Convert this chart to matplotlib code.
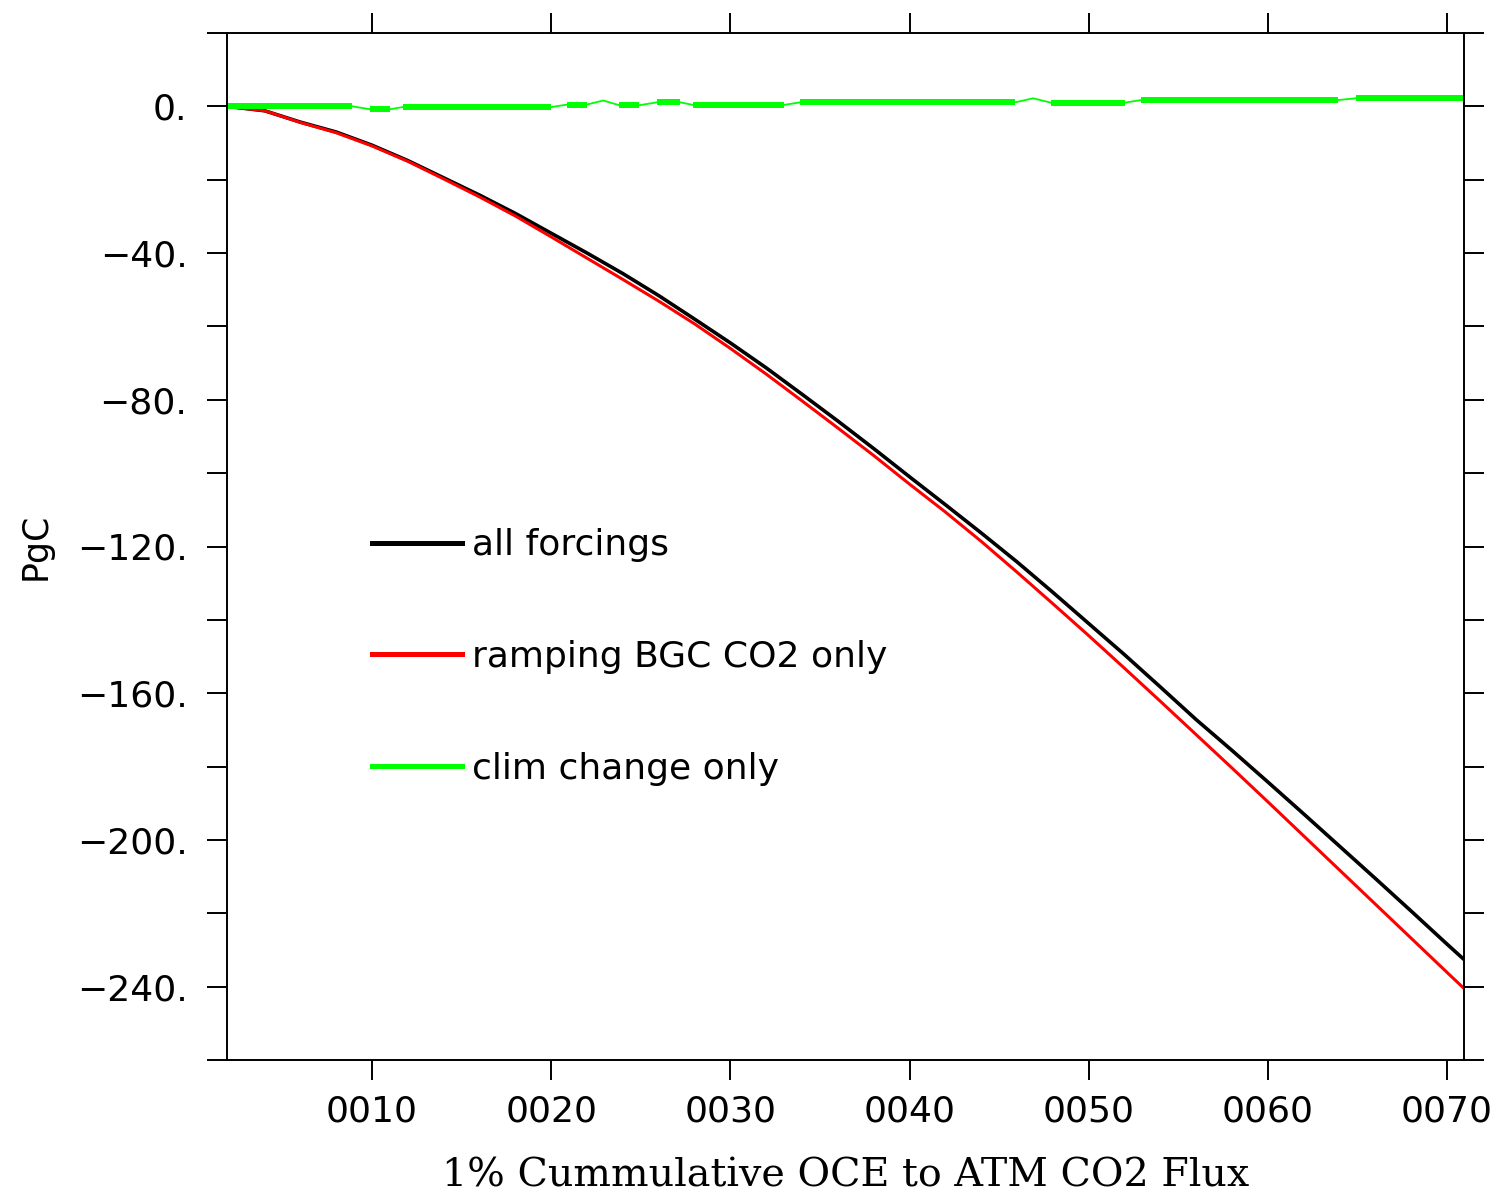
import numpy as np
import matplotlib
matplotlib.use("Agg")
import matplotlib.pyplot as plt
from matplotlib.lines import Line2D
from matplotlib.ticker import FixedLocator, FuncFormatter

# model year (x) and cumulative flux (PgC)
years = [1.9, 4, 6, 8, 10, 12, 14, 16, 18, 20, 22, 24, 26, 28, 30, 32, 34, 36,
         38, 40, 42, 44, 46, 48, 50, 52, 54, 56, 58, 60, 62, 64, 66, 68, 70, 70.95]
all_forcings = [0, -1.2, -4.3, -7.0, -10.6, -14.8, -19.5, -24.2, -29.2, -34.6,
                -40.0, -45.6, -51.6, -58.0, -64.5, -71.3, -78.5, -85.8, -93.3,
                -101.0, -108.6, -116.3, -124.2, -132.5, -141.0, -149.5, -158.3,
                -167.2, -175.6, -184.2, -192.9, -201.7, -210.5, -219.4, -228.4, -232.6]
bgc_co2_only = [0, -1.2, -4.4, -7.2, -10.8, -15.0, -19.8, -24.7, -29.9, -35.6,
                -41.4, -47.2, -53.1, -59.3, -66.0, -73.0, -80.3, -87.7, -95.2,
                -103.0, -110.6, -118.6, -127.0, -135.6, -144.3, -153.2, -162.2,
                -171.3, -180.4, -189.6, -198.9, -208.2, -217.5, -226.8, -236.1, -240.5]

# climate-change-only run: nearly flat plateaus with small jumps
clim_start = [1.9, 9.9, 11.7, 20.9, 23.8, 25.9, 27.9, 33.9, 47.9, 52.9, 64.9]
clim_end = [8.9, 11.0, 20.0, 22.0, 24.9, 27.2, 33.0, 45.9, 52.0, 63.9, 70.95]
clim_value = [0.0, -0.8, -0.2, 0.5, 0.3, 1.1, 0.4, 1.1, 1.0, 1.7, 2.2]
clim_spike_x = [22.9, 46.9]
clim_spike_y = [1.6, 2.2]

series_labels = ["all forcings", "ramping BGC CO2 only", "clim change only"]
series_colors = ["black", "#ff0000", "#00ff00"]

xticks = [10, 20, 30, 40, 50, 60, 70]
ymajor = [0, -40, -80, -120, -160, -200, -240]
yminor = [20, -20, -60, -100, -140, -180, -220, -260]

fig = plt.figure(figsize=(15.06, 11.93), dpi=100)
ax = fig.add_axes([227 / 1506, 1 - 1060 / 1193, 1237 / 1506, 1027 / 1193])

ax.plot(years, all_forcings, color=series_colors[0], lw=2.6, solid_capstyle="butt")
ax.plot(years, bgc_co2_only, color=series_colors[1], lw=2.2, solid_capstyle="butt")

# thin connecting line through plateaus and spikes, then thick plateaus
gx = []
gy = []
for s, e, v in zip(clim_start, clim_end, clim_value):
    gx += [s, e]
    gy += [v, v]
gx += clim_spike_x
gy += clim_spike_y
order = np.argsort(gx)
ax.plot(np.array(gx)[order], np.array(gy)[order], color=series_colors[2], lw=1.3)
for s, e, v in zip(clim_start, clim_end, clim_value):
    ax.plot([s, e], [v, v], color=series_colors[2], lw=4.3, solid_capstyle="butt")

ax.set_xlim(1.9, 70.95)
ax.set_ylim(-260, 20)

ax.xaxis.set_major_locator(FixedLocator(xticks))
ax.xaxis.set_major_formatter(FuncFormatter(lambda v, p: "%04d" % int(round(v))))
ax.yaxis.set_major_locator(FixedLocator(ymajor))
ax.yaxis.set_minor_locator(FixedLocator(yminor))
ax.yaxis.set_major_formatter(FuncFormatter(
    lambda v, p: ("\u2212%d." % abs(v)) if v < 0 else "%d." % v))

for sp in ax.spines.values():
    sp.set_linewidth(1.4)
ax.tick_params(axis="both", which="both", direction="out", length=14.5, width=1.4,
               top=True, right=True, labelsize=26)
ax.tick_params(axis="x", pad=10)
ax.tick_params(axis="y", which="both", pad=14)

ax.set_xlabel("1% Cummulative OCE to ATM CO2 Flux", family="DejaVu Serif",
              fontsize=28.5, labelpad=21)
ax.set_ylabel("PgC", fontsize=25)
ax.yaxis.set_label_coords(-0.141, 0.5)

handles = [Line2D([], [], color=c, lw=3.6) for c in series_colors]
ax.legend(handles, series_labels, loc="center left",
          bbox_to_anchor=((372 - 227) / 1237, (1060 - 657) / 1027),
          frameon=False, fontsize=26, handlelength=2.49, handletextpad=0.28,
          labelspacing=2.15, borderpad=0, borderaxespad=0)

fig.savefig("out.png", dpi=100)
